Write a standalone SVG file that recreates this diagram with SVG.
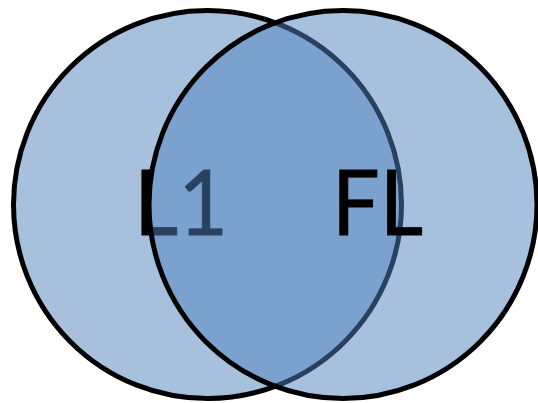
<svg xmlns="http://www.w3.org/2000/svg" width="538" height="403" viewBox="0 0 538 403">
  <style>
    .set { fill: #4f81bd; fill-opacity: 0.5; stroke: #000; stroke-width: 5; }
    .lbl { font-family: Lato, "Liberation Sans", sans-serif; font-size: 92px; fill: #000; stroke: #000; stroke-width: 0.8; }
  </style>
  <rect width="538" height="403" fill="#fff"/>
  <g id="set-l1">
    <circle class="set" cx="207.5" cy="204.5" r="194"/>
    <text class="lbl" x="134" y="235" textLength="94" lengthAdjust="spacingAndGlyphs">L1</text>
  </g>
  <g id="set-fl">
    <circle class="set" cx="343" cy="204.5" r="194"/>
    <text class="lbl" x="332" y="235" textLength="91" lengthAdjust="spacingAndGlyphs">FL</text>
  </g>
  <g id="connectors"/>
</svg>
